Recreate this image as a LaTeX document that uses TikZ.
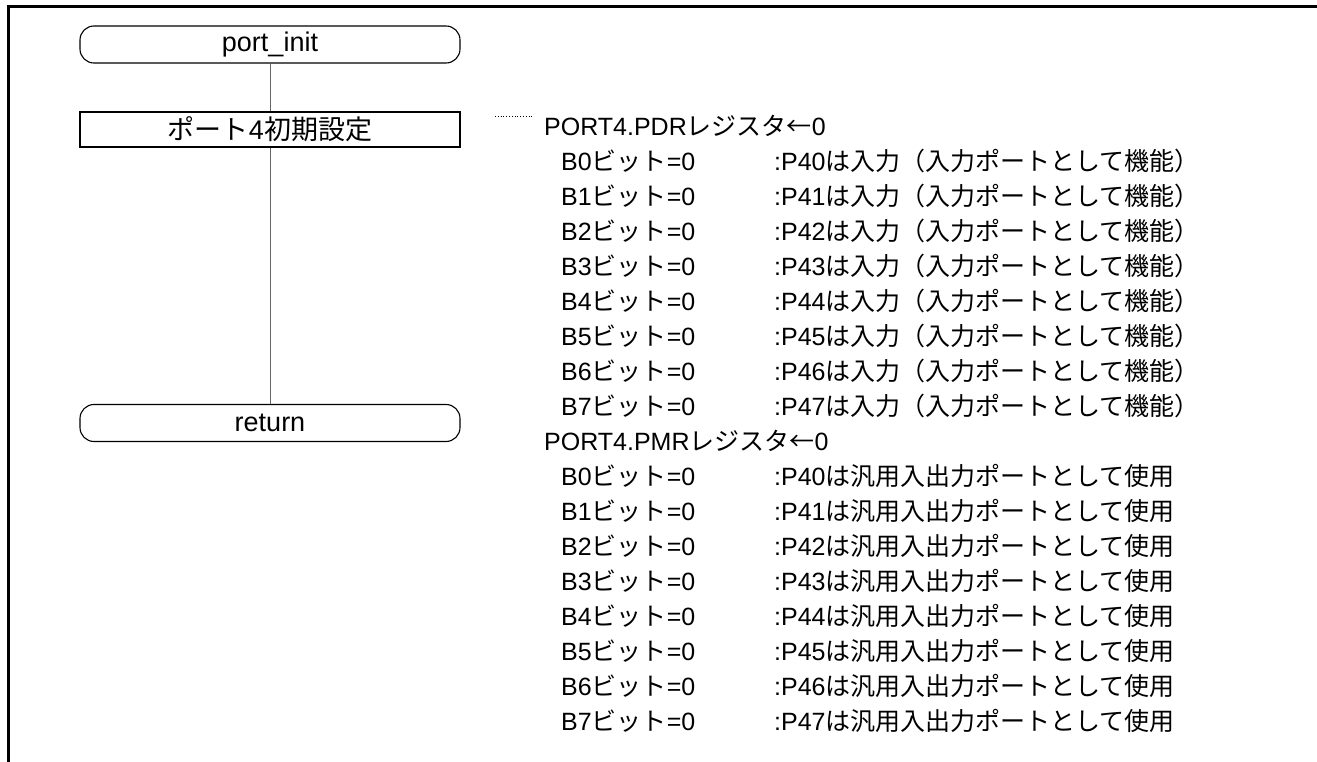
\documentclass[tikz,border=0pt]{standalone}
\usepackage{fontspec}
\setmainfont{Liberation Sans}
\newfontfamily\jp{Noto Sans CJK JP}
\begin{document}
\begin{tikzpicture}[x=1pt,y=-1pt,
  term/.style={draw,line width=1.1pt,rounded corners=14pt,minimum width=380pt,minimum height=37pt,inner sep=0pt,font=\fontsize{27}{32}\selectfont},
  proc/.style={draw,line width=1.1pt,minimum width=380pt,minimum height=35pt,inner sep=0pt,font=\fontsize{27}{32}\selectfont},
  conn/.style={draw=black!60,line width=0.9pt},
  txt/.style={anchor=west,inner sep=0pt,font=\fontsize{25}{30}\selectfont},
  frame/.style={line width=3pt,line cap=rect}]
\useasboundingbox (0,0) rectangle (1317,762);
\draw[frame] (8,762) -- (8,7) -- (1317,7);
\node[term] (start) at (270,44.5) {port\_init};
\node[proc] (init) at (270,129.5) {{\jp ポート}4{\jp 初期設定}};
\node[term] (ret) at (270,423) {return};
\draw[conn] (start) -- (init);
\draw[conn] (init) -- (ret);
\node[txt] (pdr) at (544,126) {PORT4.PDR{\jp レジスタ←}0};
\coordinate (dl) at (495,116);
\draw[dotted,line width=0.8pt] (dl) -- (533,116) coordinate (dr);
\foreach \i in {0,...,7}{
  \node[txt] (pdrb\i) at (561,{161+35*\i}) {B\i{\jp ビット}=0};
  \node[txt] (pdrd\i) at (774,{161+35*\i}) {:P4\i{\jp は入力（入力ポートとして機能）}};
}
\node[txt] (pmr) at (544,441) {PORT4.PMR{\jp レジスタ←}0};
\foreach \i in {0,...,7}{
  \node[txt] (pmrb\i) at (561,{476+35*\i}) {B\i{\jp ビット}=0};
  \node[txt] (pmrd\i) at (774,{476+35*\i}) {:P4\i{\jp は汎用入出力ポートとして使用}};
}
\end{tikzpicture}
\end{document}
